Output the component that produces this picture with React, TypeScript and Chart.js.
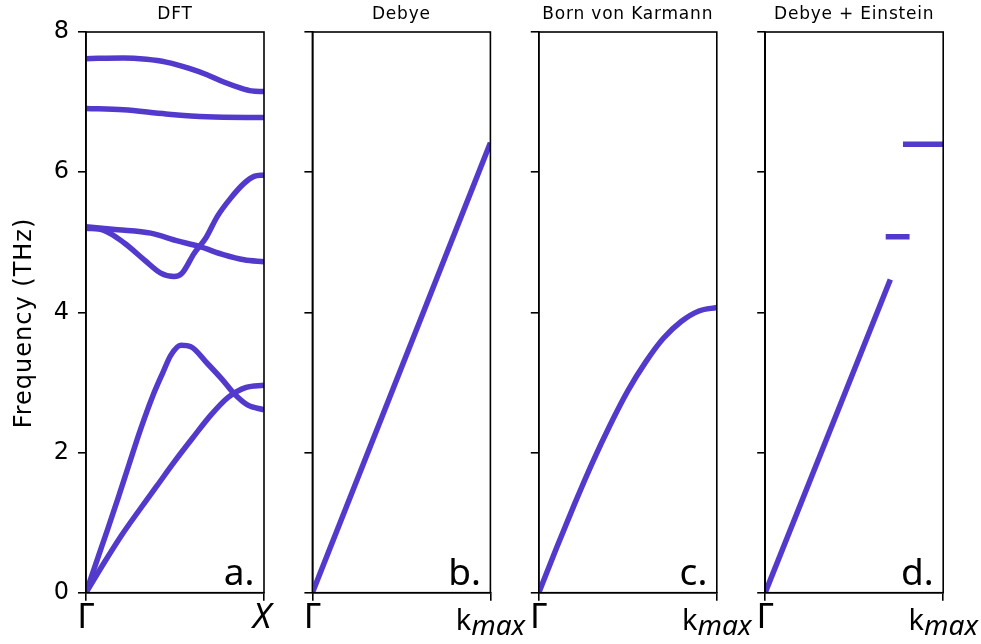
import React, { useEffect, useRef } from "react";
import { Chart, registerables } from "chart.js";

Chart.register(...registerables);

// ---------- data ----------
const panelTitles = ["DFT", "Debye", "Born von Karmann", "Debye + Einstein"];
const panelLetters = ["a.", "b.", "c.", "d."];
const freqTicks = [0, 2, 4, 6, 8];
const kTicks = [0, 1];

// DFT bands: k as fraction of Γ→X, frequency in THz
const dftBand1K = [0, 0.1, 0.2, 0.3, 0.4, 0.5, 0.6, 0.7, 0.8, 0.9, 1];
const dftBand1F = [0, 0.42, 0.82, 1.18, 1.53, 1.88, 2.21, 2.53, 2.79, 2.93, 2.96];

const dftBand2K = [0, 0.056, 0.121, 0.183, 0.243, 0.305, 0.374, 0.43, 0.477, 0.533, 0.589, 0.682, 0.766, 0.832, 0.907, 1];
const dftBand2F = [0, 0.42, 0.9, 1.37, 1.84, 2.32, 2.8, 3.13, 3.39, 3.53, 3.51, 3.27, 3.04, 2.84, 2.68, 2.61];

const dftBand3K = [0, 0.1, 0.215, 0.327, 0.42, 0.495, 0.54, 0.607, 0.673, 0.738, 0.813, 0.888, 0.944, 1];
const dftBand3F = [5.2, 5.17, 4.99, 4.75, 4.56, 4.51, 4.56, 4.84, 5.06, 5.37, 5.63, 5.84, 5.94, 5.96];

const dftBand4K = [0, 0.178, 0.364, 0.514, 0.636, 0.776, 0.888, 1];
const dftBand4F = [5.22, 5.18, 5.13, 5.02, 4.94, 4.82, 4.75, 4.72];

const dftBand5K = [0, 0.21, 0.45, 0.68, 1];
const dftBand5F = [6.91, 6.89, 6.83, 6.79, 6.78];

const dftBand6K = [0, 0.21, 0.34, 0.45, 0.58, 0.68, 0.77, 0.87, 0.93, 1];
const dftBand6F = [7.62, 7.63, 7.61, 7.57, 7.48, 7.39, 7.29, 7.2, 7.16, 7.15];

// Debye model
const debyeK = [0, 1];
const debyeF = [0, 6.42];

// Born von Karmann model
const bvkK = [0, 0.1, 0.2, 0.3, 0.4, 0.5, 0.6, 0.7, 0.8, 0.9, 1];
const bvkF = [0, 0.64, 1.26, 1.85, 2.39, 2.88, 3.29, 3.63, 3.87, 4.02, 4.07];

// Debye + Einstein model
const deDebyeK = [0, 0.703];
const deDebyeF = [0, 4.47];
const einstein1K = [0.677, 0.811];
const einstein1F = [5.08, 5.08];
const einstein2K = [0.774, 1];
const einstein2F = [6.4, 6.4];

// ---------- styling / layout ----------
const LINE_COLOR = "rgb(84,58,204)";
const W = 981;
const H = 644;
const PANEL_LEFT0 = 86;
const PANEL_STEP = 226.4;
const PANEL_W = 178;
const PLOT_TOP = 32;
const PLOT_BOTTOM = 592.7;
const Y_AXIS_W = 86;
const FRAME_W = 1.6;

const pts = (k: number[], f: number[]) => k.map((x, i) => ({ x, y: f[i] }));

const panelSeries = [
  [
    pts(dftBand1K, dftBand1F),
    pts(dftBand2K, dftBand2F),
    pts(dftBand3K, dftBand3F),
    pts(dftBand4K, dftBand4F),
    pts(dftBand5K, dftBand5F),
    pts(dftBand6K, dftBand6F),
  ],
  [pts(debyeK, debyeF)],
  [pts(bvkK, bvkF)],
  [pts(deDebyeK, deDebyeF), pts(einstein1K, einstein1F), pts(einstein2K, einstein2F)],
];

function makeDecor(i: number) {
  return {
    id: "decor" + i,
    afterDraw(chart: any) {
      const { ctx, chartArea: ca } = chart;
      ctx.save();
      // frame
      ctx.strokeStyle = "#000";
      ctx.lineWidth = FRAME_W;
      ctx.strokeRect(ca.left, ca.top, ca.right - ca.left, ca.bottom - ca.top);
      ctx.fillStyle = "#000";
      // title
      ctx.font = '17px "DejaVu Sans"';
      (ctx as any).letterSpacing = "0.8px";
      ctx.textAlign = "center";
      ctx.textBaseline = "alphabetic";
      ctx.fillText(panelTitles[i], (ca.left + ca.right) / 2, 18.5);
      (ctx as any).letterSpacing = "0px";
      // panel letter
      ctx.font = '37px "Noto Sans"';
      ctx.textAlign = "right";
      ctx.fillText(panelLetters[i], ca.right - 9.5, ca.bottom - 8);
      // x labels
      const xs = chart.scales.x;
      const x0 = xs.getPixelForValue(kTicks[0]);
      const x1 = xs.getPixelForValue(kTicks[1]);
      ctx.font = '35px "Noto Sans"';
      ctx.textAlign = "center";
      ctx.fillText("Γ", x0, 628);
      if (i === 0) {
        ctx.font = 'italic 35px "Noto Sans"';
        ctx.fillText("X", x1 - 2, 628);
      } else {
        ctx.textAlign = "left";
        ctx.font = '29px "Noto Sans"';
        const wk = ctx.measureText("k").width;
        ctx.font = 'italic 28px "Noto Sans"';
        const wm = ctx.measureText("max").width;
        const start = x1 - (wk + wm) / 2;
        ctx.font = '29px "Noto Sans"';
        ctx.fillText("k", start, 630);
        ctx.font = 'italic 28px "Noto Sans"';
        ctx.fillText("max", start + wk, 635);
      }
      // y title
      if (i === 0) {
        ctx.translate(31, 323);
        ctx.rotate(-Math.PI / 2);
        ctx.font = '24px "DejaVu Sans"';
        (ctx as any).letterSpacing = "1px";
        ctx.textAlign = "center";
        ctx.textBaseline = "alphabetic";
        ctx.fillText("Frequency (THz)", 0, 0);
      }
      ctx.restore();
    },
  };
}

function makeConfig(i: number): any {
  const left = PANEL_LEFT0 + i * PANEL_STEP;
  const axisGrid = {
    drawOnChartArea: false,
    drawTicks: true,
    tickLength: 8,
    color: "#000",
    lineWidth: FRAME_W,
  };
  const axisBorder = { display: true, color: "#000", width: FRAME_W };
  return {
    type: "line",
    data: {
      datasets: panelSeries[i].map((data) => ({
        data,
        borderColor: LINE_COLOR,
        backgroundColor: LINE_COLOR,
        borderWidth: 5.5,
        pointRadius: 0,
        fill: false,
        cubicInterpolationMode: "monotone",
        borderCapStyle: "butt",
        borderJoinStyle: "round",
      })),
    },
    options: {
      animation: false,
      responsive: false,
      maintainAspectRatio: false,
      events: [],
      layout: {
        padding: {
          top: PLOT_TOP,
          bottom: 0,
          left: left - Y_AXIS_W,
          right: W - (left + PANEL_W),
        },
      },
      plugins: {
        legend: { display: false },
        tooltip: { enabled: false },
        title: { display: false },
      },
      scales: {
        x: {
          type: "linear",
          min: 0,
          max: 1,
          afterBuildTicks: (s: any) => {
            s.ticks = kTicks.map((v) => ({ value: v }));
          },
          afterFit: (s: any) => {
            s.height = H - PLOT_BOTTOM;
          },
          ticks: { color: "rgba(0,0,0,0)", font: { size: 10 } },
          grid: axisGrid,
          border: axisBorder,
        },
        y: {
          type: "linear",
          min: 0,
          max: 8,
          afterBuildTicks: (s: any) => {
            s.ticks = freqTicks.map((v) => ({ value: v }));
          },
          afterFit: (s: any) => {
            s.width = Y_AXIS_W;
          },
          ticks: {
            color: i === 0 ? "#000" : "rgba(0,0,0,0)",
            font: { family: "DejaVu Sans", size: 24 },
            padding: 9,
          },
          grid: axisGrid,
          border: axisBorder,
        },
      },
    },
    plugins: [makeDecor(i)],
  };
}

function Panel({ index }: { index: number }) {
  const ref = useRef<HTMLCanvasElement | null>(null);
  useEffect(() => {
    if (!ref.current) return;
    const chart = new Chart(ref.current, makeConfig(index));
    return () => chart.destroy();
  }, [index]);
  return (
    <canvas
      ref={ref}
      width={W}
      height={H}
      style={{ position: "absolute", left: 0, top: 0, width: W, height: H, display: "block" }}
    />
  );
}

export default function App() {
  return (
    <div
      style={{
        position: "fixed",
        left: 0,
        top: 0,
        width: W,
        height: H,
        background: "#fff",
        overflow: "hidden",
      }}
    >
      {[0, 1, 2, 3].map((i) => (
        <Panel key={i} index={i} />
      ))}
    </div>
  );
}
